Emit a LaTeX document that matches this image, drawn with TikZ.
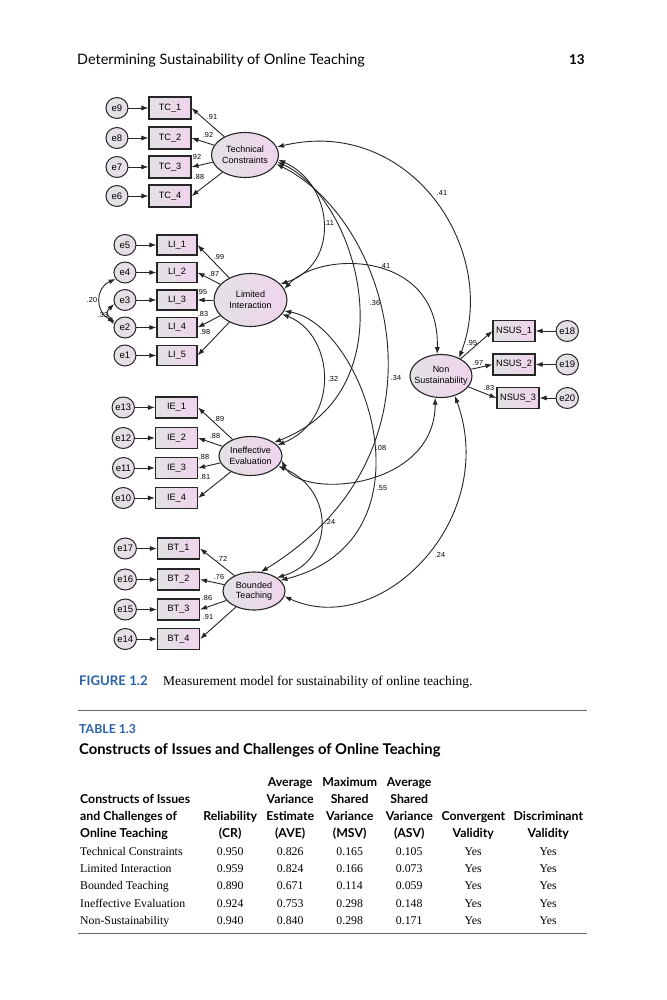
\documentclass[tikz,border=0pt]{standalone}
\usepackage{fontspec}
\setmainfont{Liberation Serif}
\setsansfont{Lato}
\newfontfamily\amosfont{Liberation Sans}
\usepackage{array}
\usetikzlibrary{arrows.meta,shapes.geometric,positioning}

\definecolor{capblue}{RGB}{41,98,168}
\definecolor{fillgray}{RGB}{226,226,228}
\definecolor{fillpink}{RGB}{240,212,236}
\newcolumntype{C}[1]{>{\centering\arraybackslash}p{#1}}
\newcommand\tabhead[1]{{\sffamily\bfseries\fontsize{12.3}{17.3}\selectfont #1}}

\begin{document}
\begin{tikzpicture}[x=1pt,y=-1pt,>={Latex[length=7pt,width=5pt]},
  obs node/.style={rectangle,draw=black!85,line width=1.1pt,left color=fillgray,
    right color=fillpink,minimum width=42pt,minimum height=21pt,inner sep=0pt,
    font=\amosfont\fontsize{9.2}{10}\selectfont},
  err node/.style={ellipse,draw=black!85,line width=1pt,left color=fillgray,
    right color=fillgray!60!fillpink,minimum width=22pt,minimum height=21pt,
    inner sep=0pt,font=\amosfont\fontsize{9.5}{10}\selectfont},
  lat node/.style={ellipse,draw=black!85,line width=1.1pt,left color=fillgray,
    right color=fillpink,inner sep=0pt,align=center,
    font=\amosfont\fontsize{9}{10.5}\selectfont},
  coef/.style={font=\amosfont\fontsize{7.3}{8}\selectfont,inner sep=0pt},
  load/.style={->,line width=0.9pt,black!85},
  cov/.style={<->,line width=0.9pt,black!85}]

  \useasboundingbox (0,0) rectangle (666,1000);
  \fill[white] (0,0) rectangle (666,1000);

  % running head
  \node[anchor=base west,inner sep=0pt,font=\sffamily\fontsize{14.4}{16}\selectfont]
    (runhead) at (77,65) {Determining Sustainability of Online Teaching};
  \node[anchor=base east,inner sep=0pt,font=\sffamily\bfseries\fontsize{13.5}{16}\selectfont]
    (pageno) at (585,65) {13};

  % latent variables
  \node[lat node,minimum width=67pt,minimum height=45pt] (tc) at (245,155) {Technical\\Constraints};
  \node[lat node,minimum width=73pt,minimum height=53pt] (li) at (250.5,300) {Limited\\Interaction};
  \node[lat node,minimum width=63pt,minimum height=39pt] (ie) at (250.5,456) {Ineffective\\Evaluation};
  \node[lat node,minimum width=62pt,minimum height=38pt] (bt) at (254,591) {Bounded\\Teaching};
  \node[lat node,minimum width=62pt,minimum height=43pt,inner xsep=-5pt] (ns) at (441,376) {Non\\Sustainability};

  % indicators
  \node[obs node,minimum height=22pt] (tc1) at (170,108) {TC\_1};
  \node[obs node,minimum height=22pt] (tc2) at (170,138) {TC\_2};
  \node[obs node,minimum height=22pt] (tc3) at (170,167) {TC\_3};
  \node[obs node,minimum height=22pt] (tc4) at (170,196) {TC\_4};

  \node[obs node,minimum width=40pt,minimum height=20pt] (li1) at (177,245) {LI\_1};
  \node[obs node,minimum width=40pt,minimum height=20pt] (li2) at (177,272.5) {LI\_2};
  \node[obs node,minimum width=40pt,minimum height=20pt] (li3) at (177,300) {LI\_3};
  \node[obs node,minimum width=40pt,minimum height=20pt] (li4) at (177,327.5) {LI\_4};
  \node[obs node,minimum width=40pt,minimum height=20pt] (li5) at (177,355.5) {LI\_5};

  \node[obs node] (ie1) at (176.5,407.5) {IE\_1};
  \node[obs node] (ie2) at (176.5,438) {IE\_2};
  \node[obs node] (ie3) at (176.5,468) {IE\_3};
  \node[obs node] (ie4) at (176.5,498) {IE\_4};

  \node[obs node] (bt1) at (178.5,548.5) {BT\_1};
  \node[obs node] (bt2) at (178.5,579.5) {BT\_2};
  \node[obs node] (bt3) at (178.5,609.5) {BT\_3};
  \node[obs node] (bt4) at (178.5,639) {BT\_4};

  \node[obs node] (ns1) at (514,331) {NSUS\_1};
  \node[obs node] (ns2) at (514,364.5) {NSUS\_2};
  \node[obs node] (ns3) at (518,398) {NSUS\_3};

  % error terms
  \node[err node,left=20pt of tc1] (e9) {e9};
  \node[err node,left=20pt of tc2] (e8) {e8};
  \node[err node,left=20pt of tc3] (e7) {e7};
  \node[err node,left=20pt of tc4] (e6) {e6};
  \node[err node,left=20pt of li1] (e5) {e5};
  \node[err node,left=20pt of li2] (e4) {e4};
  \node[err node,left=20pt of li3] (e3) {e3};
  \node[err node,left=20pt of li4] (e2) {e2};
  \node[err node,left=20pt of li5] (e1) {e1};
  \node[err node,left=20pt of ie1] (e13) {e13};
  \node[err node,left=20pt of ie2] (e12) {e12};
  \node[err node,left=20pt of ie3] (e11) {e11};
  \node[err node,left=20pt of ie4] (e10) {e10};
  \node[err node,left=20pt of bt1] (e17) {e17};
  \node[err node,left=20pt of bt2] (e16) {e16};
  \node[err node,left=20pt of bt3] (e15) {e15};
  \node[err node,left=20pt of bt4] (e14) {e14};
  \node[err node,minimum width=18pt,right=20pt of ns1] (e18) {e18};
  \node[err node,minimum width=18pt,right=20pt of ns2] (e19) {e19};
  \node[err node,minimum width=18pt,right=16pt of ns3] (e20) {e20};

  % error paths
  \foreach \e/\b in {e9/tc1,e8/tc2,e7/tc3,e6/tc4,e5/li1,e4/li2,e3/li3,e2/li4,e1/li5,
      e13/ie1,e12/ie2,e11/ie3,e10/ie4,e17/bt1,e16/bt2,e15/bt3,e14/bt4,
      e18/ns1,e19/ns2,e20/ns3}
    \draw[load] (\e) -- (\b);

  % loadings
  \foreach \l/\b in {tc/tc1,tc/tc2,tc/tc3,tc/tc4,li/li1,li/li2,li/li3,li/li4,li/li5,
      ie/ie1,ie/ie2,ie/ie3,ie/ie4,bt/bt1,bt/bt2,bt/bt3,bt/bt4}
    \draw[load] (\l) -- (\b.east);
  \foreach \b in {ns1,ns2,ns3}
    \draw[load] (ns) -- (\b.west);

  \node[coef] (ctc1) at (212,117) {.91};
  \node[coef] (ctc2) at (208,135) {.92};
  \node[coef] (ctc3) at (196,157) {.92};
  \node[coef] (ctc4) at (199,177) {.88};
  \node[coef] (cli1) at (219,257) {.99};
  \node[coef] (cli2) at (214,274) {.87};
  \node[coef] (cli3) at (202,292) {.95};
  \node[coef] (cli4) at (203,314) {.83};
  \node[coef] (cli5) at (205,332) {.98};
  \node[coef] (cie1) at (219,419) {.89};
  \node[coef] (cie2) at (215,436) {.88};
  \node[coef] (cie3) at (204,457) {.88};
  \node[coef] (cie4) at (205,477) {.81};
  \node[coef] (cbt1) at (222,559) {.72};
  \node[coef] (cbt2) at (219,577) {.76};
  \node[coef] (cbt3) at (207,598) {.86};
  \node[coef] (cbt4) at (208,617) {.91};
  \node[coef] (cns1) at (472,343) {.95};
  \node[coef] (cns2) at (478,363) {.97};
  \node[coef] (cns3) at (489,388) {.83};

  % covariances
  \draw[cov] (tc.14) .. controls (410,115) and (500,250) .. (ns.45);
  \draw[cov] (li.18) .. controls (320,250) and (440,250) .. (ns.100);
  \draw[cov] (tc.-8) .. controls (335,185) and (340,265) .. (li.28);
  \draw[cov] (tc.-12) .. controls (360,200) and (410,390) .. (ie.30);
  \draw[cov] (tc.-16) .. controls (390,220) and (460,450) .. (bt.70);
  \draw[cov] (li.-18) .. controls (365,325) and (440,540) .. (bt.22);
  \draw[cov] (li.-24) .. controls (335,335) and (340,420) .. (ie.22);
  \draw[cov] (ie.-20) .. controls (335,490) and (335,560) .. (bt.30);
  \draw[cov] (ie.-8) .. controls (300,500) and (435,490) .. (ns.-105);
  \draw[cov] (bt.-10) .. controls (380,640) and (500,520) .. (ns.-55);
  \draw[cov] (e4.215) .. controls (95,288) and (95,312) .. (e2.150);
  \draw[cov] (e3.200) .. controls (106,312) .. (e2.165);

  \node[coef] (ctcns) at (442,193) {.41};
  \node[coef] (clins) at (385,266) {.41};
  \node[coef] (ctcli) at (329,223) {.11};
  \node[coef] (ctcie) at (375,303) {.36};
  \node[coef] (ctcbt) at (396,378) {.34};
  \node[coef] (cliie) at (333,379) {.32};
  \node[coef] (clibt) at (381,448) {.08};
  \node[coef] (cions) at (382,488) {.55};
  \node[coef] (cbtie) at (330,522) {.24};
  \node[coef] (cbtns) at (440,555) {.24};
  \node[coef] (ce2e4) at (92,300) {.20};
  \node[coef] (ce2e3) at (103,315) {.33};

  % caption
  \node[anchor=base west,inner sep=0pt,text=capblue,
    font=\sffamily\bfseries\fontsize{13.2}{15}\selectfont] (figlabel) at (79,685) {FIGURE 1.2};
  \node[anchor=base west,inner sep=0pt,font=\fontsize{13.5}{15}\selectfont]
    (figcap) at (163,685) {Measurement model for sustainability of online teaching.};

  % table
  \draw[line width=0.6pt,black!60] (78,710) -- (587,710);
  \node[anchor=base west,inner sep=0pt,text=capblue,
    font=\sffamily\bfseries\fontsize{12.3}{14}\selectfont] (tablabel) at (79,733) {TABLE 1.3};
  \node[anchor=base west,inner sep=0pt,font=\sffamily\bfseries\fontsize{14.8}{17}\selectfont]
    (tabtitle) at (79,754) {Constructs of Issues and Challenges of Online Teaching};
  \node[anchor=base west,inner sep=0pt,font=\fontsize{11.8}{17.3}\selectfont] (tab) at (80,786) {%
    \setlength{\tabcolsep}{0pt}%
    \begin{tabular}[t]{@{}p{120pt}C{60pt}C{60pt}C{59pt}C{60pt}C{68pt}C{82pt}@{}}
      & & \tabhead{Average} & \tabhead{Maximum} & \tabhead{Average} & & \\
      \tabhead{Constructs of Issues} & & \tabhead{Variance} & \tabhead{Shared} & \tabhead{Shared} & & \\
      \tabhead{and Challenges of} & \tabhead{Reliability} & \tabhead{Estimate} & \tabhead{Variance} & \tabhead{Variance} & \tabhead{Convergent} & \tabhead{Discriminant} \\
      \tabhead{Online Teaching} & \tabhead{(CR)} & \tabhead{(AVE)} & \tabhead{(MSV)} & \tabhead{(ASV)} & \tabhead{Validity} & \tabhead{Validity} \\
      Technical Constraints & 0.950 & 0.826 & 0.165 & 0.105 & Yes & Yes \\
      Limited Interaction & 0.959 & 0.824 & 0.166 & 0.073 & Yes & Yes \\
      Bounded Teaching & 0.890 & 0.671 & 0.114 & 0.059 & Yes & Yes \\
      Ineffective Evaluation & 0.924 & 0.753 & 0.298 & 0.148 & Yes & Yes \\
      Non-Sustainability & 0.940 & 0.840 & 0.298 & 0.171 & Yes & Yes
    \end{tabular}};
  \draw[line width=0.6pt,black!60] (78,933) -- (587,933);
\end{tikzpicture}
\end{document}
